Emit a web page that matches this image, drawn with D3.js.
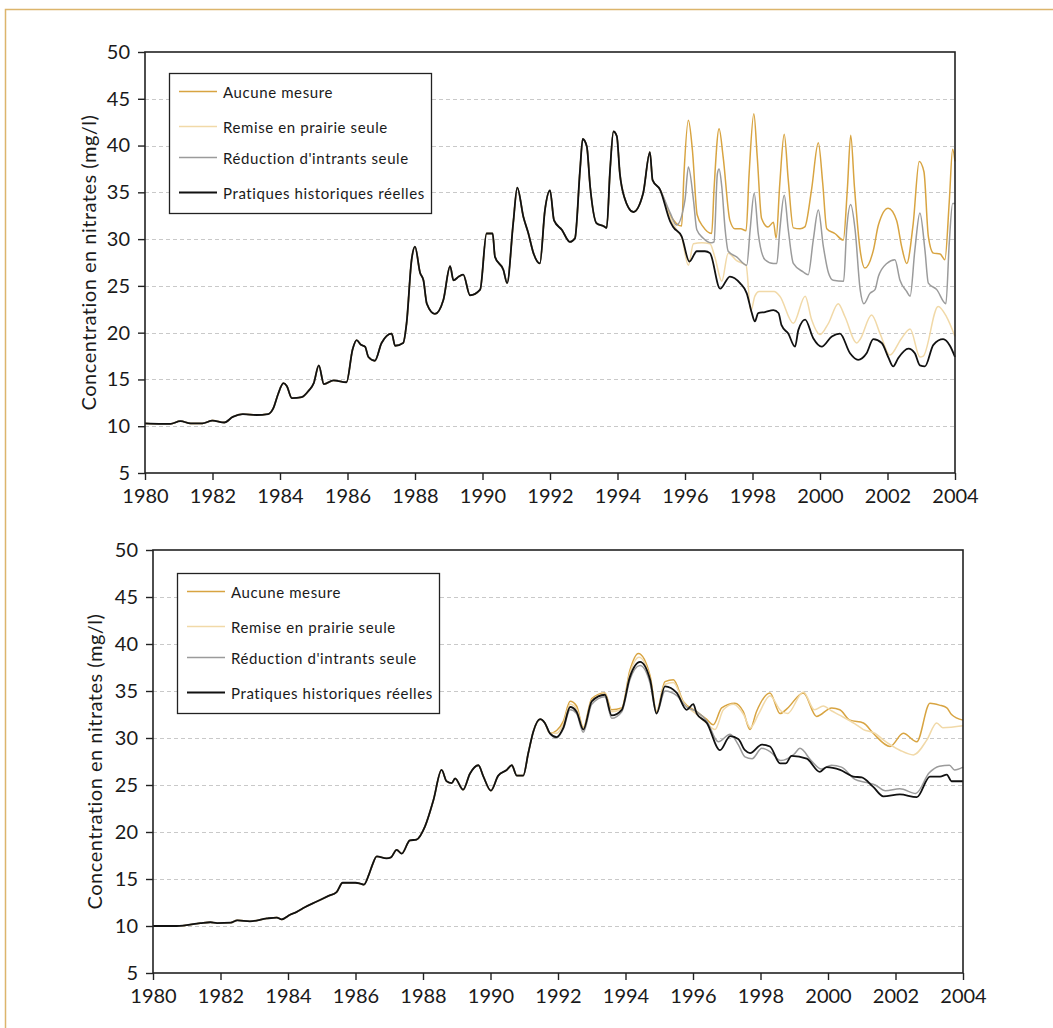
<!DOCTYPE html>
<html lang="fr">
<head>
<meta charset="utf-8">
<script src="https://d3js.org/d3.v7.min.js"></script>
<style>
  body { margin: 0; background: #fff; }
  svg text { font-family: Lato, "Open Sans", sans-serif; fill: #1a1a1a; }
</style>
</head>
<body>
<script>

//Width and height
var w = 1053;
var h = 1028;

// ---- data ----
var yearTicks = d3.range(1980, 2005, 2);
var concTicks = d3.range(5, 51, 5);
var seriesNames = ["Aucune mesure", "Remise en prairie seule", "Réduction d'intrants seule", "Pratiques historiques réelles"];
var yTitle = "Concentration en nitrates (mg/l)";

// chart 1 : [year, mg/l], part common to all scenarios
var c1Early = [[1980.0,10.3],[1980.5,10.25],[1980.75,10.25],[1981.05,10.55],[1981.35,10.3],[1981.7,10.3],[1982.0,10.6],[1982.35,10.4],[1982.6,11.0],[1982.9,11.3],[1983.3,11.2],[1983.65,11.3],[1983.8,11.9],[1983.95,13.5],[1984.1,14.6],[1984.2,14.3],[1984.35,13.0],[1984.64,13.1],[1984.85,13.8],[1985.0,14.6],[1985.15,16.5],[1985.3,14.5],[1985.58,14.9],[1985.97,14.7],[1986.15,18.2],[1986.27,19.2],[1986.4,18.7],[1986.52,18.5],[1986.62,17.4],[1986.81,17.0],[1987.01,18.9],[1987.31,19.9],[1987.41,18.6],[1987.65,18.9],[1987.75,21.0],[1987.9,27.8],[1988.0,29.2],[1988.15,26.4],[1988.25,25.6],[1988.35,23.1],[1988.59,22.0],[1988.84,23.5],[1989.04,27.1],[1989.14,25.6],[1989.3,26.0],[1989.43,26.2],[1989.63,24.0],[1989.93,24.6],[1990.12,30.6],[1990.3,30.6],[1990.37,28.1],[1990.62,26.7],[1990.73,25.3],[1990.91,31.7],[1991.03,35.5],[1991.21,32.4],[1991.36,30.6],[1991.51,28.5],[1991.7,27.4],[1991.85,33.1],[1992.0,35.2],[1992.12,32.0],[1992.35,31.0],[1992.59,29.7],[1992.74,30.1],[1992.89,37.4],[1992.97,40.7],[1993.09,39.9],[1993.19,35.6],[1993.38,31.7],[1993.58,31.4],[1993.68,31.2],[1993.78,37.4],[1993.88,41.5],[1993.98,41.0],[1994.07,37.0],[1994.2,34.5],[1994.47,32.9],[1994.76,34.9],[1994.96,39.3],[1995.04,36.3],[1995.26,35.3]];

var c1AucuneTail = [[1995.56,32.6],[1995.9,31.4],[1995.97,37.0],[1996.1,42.7],[1996.22,39.5],[1996.36,32.6],[1996.54,31.3],[1996.79,30.6],[1996.86,35.3],[1997.01,41.8],[1997.13,38.8],[1997.33,32.0],[1997.48,31.1],[1997.65,31.1],[1997.81,30.9],[1997.9,37.0],[1998.04,43.4],[1998.14,38.8],[1998.27,32.2],[1998.46,31.3],[1998.62,31.8],[1998.7,30.1],[1998.81,36.0],[1998.94,41.2],[1999.06,36.3],[1999.21,31.2],[1999.41,31.1],[1999.55,31.3],[1999.75,35.3],[1999.95,40.3],[2000.08,36.0],[2000.2,31.1],[2000.44,30.6],[2000.69,29.9],[2000.81,35.3],[2000.91,41.1],[2001.02,35.6],[2001.19,28.8],[2001.33,26.9],[2001.58,28.8],[2001.73,31.5],[2002.02,33.3],[2002.27,32.0],[2002.42,29.2],[2002.57,27.4],[2002.76,31.6],[2002.94,38.3],[2003.08,37.2],[2003.21,30.3],[2003.36,28.5],[2003.56,28.4],[2003.7,27.8],[2003.83,34.0],[2003.93,39.6],[2004.0,38.3]];

var c1RemiseTail = [[1995.56,32.3],[1995.75,31.0],[1995.9,30.2],[1996.1,27.2],[1996.25,29.5],[1996.5,29.6],[1996.74,29.5],[1996.89,28.0],[1997.09,25.5],[1997.28,28.5],[1997.53,27.7],[1997.81,27.2],[1997.95,22.3],[1998.07,23.9],[1998.2,24.4],[1998.64,24.4],[1998.81,23.9],[1999.21,21.0],[1999.56,23.9],[1999.75,21.4],[2000.0,19.8],[2000.25,21.0],[2000.54,23.1],[2000.74,21.7],[2001.09,18.9],[2001.19,19.3],[2001.53,21.9],[2001.78,19.9],[2002.07,17.6],[2002.4,19.3],[2002.67,20.4],[2002.96,17.4],[2003.06,17.5],[2003.5,22.8],[2003.75,21.7],[2004.0,19.6]];

var c1ReductionTail = [[1995.56,32.8],[1995.75,31.5],[1996.0,34.2],[1996.1,37.7],[1996.25,34.2],[1996.35,31.0],[1996.54,30.1],[1996.79,29.6],[1996.86,29.7],[1996.96,37.0],[1997.01,37.5],[1997.09,35.6],[1997.19,31.0],[1997.28,28.7],[1997.53,28.1],[1997.83,27.2],[1997.93,31.0],[1998.05,34.9],[1998.17,30.6],[1998.37,27.8],[1998.62,27.4],[1998.72,27.4],[1998.81,31.0],[1998.94,34.7],[1999.06,31.0],[1999.21,27.4],[1999.5,26.5],[1999.65,26.2],[1999.8,29.9],[1999.95,33.1],[2000.1,29.2],[2000.25,26.4],[2000.39,25.6],[2000.7,25.5],[2000.79,31.0],[2000.91,33.7],[2001.04,31.0],[2001.19,24.6],[2001.3,23.1],[2001.48,24.2],[2001.63,24.6],[2001.73,26.0],[2001.98,27.4],[2002.22,27.8],[2002.37,25.6],[2002.57,24.4],[2002.67,23.9],[2002.81,28.8],[2002.96,32.8],[2003.11,28.8],[2003.21,25.3],[2003.46,24.6],[2003.73,23.1],[2003.83,29.6],[2003.93,33.8],[2004.0,33.8]];

var c1PratiquesTail = [[1995.56,31.9],[1995.65,31.3],[1995.9,30.3],[1996.13,27.6],[1996.35,28.7],[1996.59,28.7],[1996.74,28.5],[1997.04,24.7],[1997.33,26.0],[1997.63,25.3],[1997.83,24.2],[1997.98,22.1],[1998.07,21.2],[1998.17,22.1],[1998.37,22.2],[1998.62,22.4],[1998.77,22.1],[1998.86,20.8],[1999.06,19.9],[1999.26,18.5],[1999.36,20.3],[1999.56,21.4],[1999.8,19.4],[2000.05,18.5],[2000.35,19.6],[2000.59,19.9],[2000.89,17.8],[2001.13,17.1],[2001.38,17.8],[2001.58,19.3],[2001.83,18.9],[2002.02,17.4],[2002.17,16.4],[2002.32,17.3],[2002.62,18.3],[2002.81,17.8],[2002.96,16.5],[2003.11,16.4],[2003.36,18.7],[2003.65,19.3],[2003.85,18.6],[2004.0,17.4]];

// chart 2
var c2Early = [[1980.0,10.0],[1980.7,10.0],[1981.4,10.3],[1981.7,10.4],[1981.9,10.3],[1982.3,10.35],[1982.5,10.6],[1982.87,10.5],[1983.37,10.8],[1983.67,10.9],[1983.81,10.7],[1984.06,11.2],[1984.26,11.5],[1984.5,12.0],[1984.85,12.6],[1985.2,13.2],[1985.44,13.6],[1985.62,14.6],[1986.0,14.6],[1986.15,14.5],[1986.25,14.4],[1986.4,15.5],[1986.5,16.5],[1986.63,17.4],[1986.92,17.2],[1987.05,17.3],[1987.22,18.1],[1987.37,17.7],[1987.61,19.1],[1987.81,19.2],[1988.06,20.6],[1988.31,23.4],[1988.55,26.6],[1988.7,25.4],[1988.85,25.2],[1988.95,25.7],[1989.19,24.5],[1989.39,26.2],[1989.64,27.1],[1989.79,25.9],[1990.01,24.4],[1990.23,26.0],[1990.48,26.6],[1990.63,27.1],[1990.78,26.0],[1990.97,26.0],[1991.12,28.4],[1991.27,30.7],[1991.47,32.0],[1991.61,31.6],[1991.76,30.5]];

var c2AucuneTail = [[1991.96,30.8],[1992.16,31.8],[1992.36,33.9],[1992.55,33.4],[1992.75,31.1],[1993.0,34.2],[1993.39,34.8],[1993.59,33.0],[1993.89,33.2],[1994.13,37.2],[1994.38,39.0],[1994.73,36.6],[1994.92,32.8],[1995.17,36.0],[1995.42,36.2],[1995.71,33.9],[1996.11,32.8],[1996.4,32.0],[1996.6,31.4],[1996.85,33.2],[1997.24,33.7],[1997.49,32.8],[1997.69,30.9],[1997.88,32.8],[1998.28,34.8],[1998.58,32.6],[1998.78,33.1],[1999.27,34.8],[1999.66,32.3],[2000.11,33.2],[2000.35,33.0],[2000.65,31.9],[2001.05,31.6],[2001.34,30.5],[2001.84,29.1],[2002.23,30.5],[2002.63,29.6],[2003.02,33.7],[2003.3,33.5],[2003.52,33.2],[2003.66,32.5],[2004.0,31.9]];

var c2RemiseTail = [[1991.96,30.5],[1992.16,31.5],[1992.36,33.6],[1992.55,33.1],[1992.75,31.0],[1993.0,34.0],[1993.39,34.7],[1993.59,32.8],[1993.89,33.1],[1994.13,36.9],[1994.4,38.6],[1994.73,36.3],[1994.92,32.9],[1995.17,35.7],[1995.42,35.9],[1995.71,33.8],[1996.11,32.5],[1996.4,31.6],[1996.65,30.9],[1996.9,33.0],[1997.2,33.6],[1997.5,32.5],[1997.7,31.1],[1997.95,32.6],[1998.28,34.5],[1998.6,32.9],[1998.8,32.6],[1999.27,34.9],[1999.6,33.0],[1999.86,33.4],[2000.1,32.9],[2000.36,32.4],[2000.8,31.5],[2001.05,30.9],[2001.4,30.5],[2001.64,29.8],[2002.13,28.7],[2002.53,28.2],[2002.93,29.8],[2003.22,31.6],[2003.4,31.1],[2004.0,31.3]];

var c2ReductionTail = [[1991.96,30.0],[1992.16,31.0],[1992.36,33.0],[1992.55,32.6],[1992.75,30.6],[1993.0,33.6],[1993.39,34.4],[1993.59,32.1],[1993.89,32.8],[1994.13,36.2],[1994.43,37.7],[1994.73,35.8],[1994.92,32.6],[1995.17,35.0],[1995.52,34.5],[1995.81,33.3],[1996.11,32.8],[1996.41,31.8],[1996.75,29.6],[1997.1,30.4],[1997.34,29.3],[1997.54,28.0],[1997.75,27.8],[1998.04,28.9],[1998.3,28.5],[1998.6,27.6],[1999.0,28.3],[1999.17,28.9],[1999.5,27.6],[1999.8,26.7],[2000.1,27.1],[2000.4,26.9],[2000.8,25.6],[2001.1,25.3],[2001.4,25.0],[2001.7,24.4],[2002.13,24.6],[2002.6,24.1],[2003.0,26.3],[2003.3,27.0],[2003.6,27.1],[2003.75,26.6],[2004.0,26.9]];

var c2PratiquesTail = [[1991.96,30.1],[1992.16,31.1],[1992.36,33.3],[1992.55,32.8],[1992.75,30.9],[1993.0,33.9],[1993.39,34.6],[1993.59,32.4],[1993.89,33.0],[1994.13,36.5],[1994.43,38.1],[1994.73,36.2],[1994.92,32.6],[1995.17,35.5],[1995.52,34.8],[1995.81,33.0],[1996.01,33.6],[1996.11,32.6],[1996.41,31.6],[1996.8,28.7],[1997.1,30.2],[1997.34,29.9],[1997.54,28.7],[1997.69,28.4],[1998.04,29.3],[1998.28,29.1],[1998.58,27.3],[1998.75,27.3],[1998.92,28.1],[1999.37,27.8],[1999.76,26.4],[1999.96,26.9],[2000.36,26.6],[2000.75,25.9],[2001.0,25.8],[2001.34,24.8],[2001.64,23.8],[2002.13,24.0],[2002.63,23.7],[2003.02,25.9],[2003.32,25.9],[2003.52,26.1],[2003.66,25.4],[2004.0,25.4]];

// ---- styles ----
var colors = ["#d8a441", "#f1d9a8", "#9b9b9b", "#111111"];
var widths = [1.5, 1.5, 1.5, 1.8];

var svg = d3.select("body").append("svg")
    .attr("width", w)
    .attr("height", h);

// page frame (top and left edges visible)
svg.append("path")
    .attr("d", "M5.5,1028 V9.5 H1053")
    .attr("fill", "none")
    .attr("stroke", "#dcb56c")
    .attr("stroke-width", 1.5);

function drawChart(cfg) {
    var x = d3.scaleLinear().domain([1980, 2004]).range([cfg.left, cfg.right]);
    var y = d3.scaleLinear().domain([5, 50]).range([cfg.bottom, cfg.top]);
    var g = svg.append("g");

    // dashed gridlines
    g.selectAll(".grid")
        .data(concTicks.filter(function(d) { return d > 5 && d < 50; }))
        .enter().append("line")
        .attr("x1", cfg.left).attr("x2", cfg.right)
        .attr("y1", function(d) { return Math.round(y(d)) + 0.5; })
        .attr("y2", function(d) { return Math.round(y(d)) + 0.5; })
        .attr("stroke", "#c9c9c9")
        .attr("stroke-dasharray", "4,3");

    var line = d3.line()
        .x(function(d) { return x(d[0]); })
        .y(function(d) { return y(d[1]); })
        .curve(d3.curveMonotoneX);

    g.selectAll(".series")
        .data(cfg.series)
        .enter().append("path")
        .attr("d", function(d) { return line(d); })
        .attr("fill", "none")
        .attr("stroke", function(d, i) { return colors[i]; })
        .attr("stroke-width", function(d, i) { return widths[i]; })
        .attr("stroke-linejoin", "round");

    // plot frame
    g.append("rect")
        .attr("x", cfg.left).attr("y", cfg.top)
        .attr("width", cfg.right - cfg.left)
        .attr("height", cfg.bottom - cfg.top)
        .attr("fill", "none")
        .attr("stroke", "#222")
        .attr("stroke-width", 1.6);

    var xAxis = g.append("g")
        .attr("transform", "translate(0," + cfg.bottom + ")")
        .call(d3.axisBottom(x).tickValues(yearTicks).tickFormat(d3.format("d")).tickSize(7).tickPadding(9));
    var yAxis = g.append("g")
        .attr("transform", "translate(" + cfg.left + ",0)")
        .call(d3.axisLeft(y).tickValues(concTicks).tickSize(7).tickPadding(8));
    [xAxis, yAxis].forEach(function(a) {
        a.select(".domain").remove();
        a.selectAll("line").attr("stroke", "#222").attr("stroke-width", 1.4);
        a.selectAll("text").style("font-size", "20px").attr("fill", "#1a1a1a");
    });

    g.append("text")
        .attr("transform", "translate(" + cfg.titleX + "," + (cfg.top + cfg.bottom) / 2 + ") rotate(-90)")
        .attr("text-anchor", "middle")
        .attr("dominant-baseline", "central")
        .style("font-size", "20px")
        .style("letter-spacing", "0.5px")
        .text(yTitle);

    // legend
    var lg = g.append("g").attr("transform", "translate(" + cfg.legX + "," + cfg.legY + ")");
    lg.append("rect")
        .attr("x", 0.5).attr("y", 0.5)
        .attr("width", 262).attr("height", 140)
        .attr("fill", "#fff")
        .attr("stroke", "#222")
        .attr("stroke-width", 1.3);
    var rows = [18.5, 53.5, 84.5, 119.5];
    seriesNames.forEach(function(name, i) {
        lg.append("line")
            .attr("x1", 10).attr("x2", 48)
            .attr("y1", rows[i]).attr("y2", rows[i])
            .attr("stroke", colors[i])
            .attr("stroke-width", widths[i]);
        lg.append("text")
            .attr("x", 54).attr("y", rows[i])
            .attr("dominant-baseline", "central")
            .style("font-size", "15px")
            .style("letter-spacing", "0.6px")
            .text(name);
    });
}

drawChart({
    left: 145, right: 955, top: 52, bottom: 473,
    titleX: 88, legX: 169, legY: 73,
    series: [c1Early.concat(c1AucuneTail), c1Early.concat(c1RemiseTail),
             c1Early.concat(c1ReductionTail), c1Early.concat(c1PratiquesTail)]
});

drawChart({
    left: 153, right: 963, top: 550, bottom: 973,
    titleX: 94, legX: 177, legY: 573,
    series: [c2Early.concat(c2AucuneTail), c2Early.concat(c2RemiseTail),
             c2Early.concat(c2ReductionTail), c2Early.concat(c2PratiquesTail)]
});

</script>
</body>
</html>
